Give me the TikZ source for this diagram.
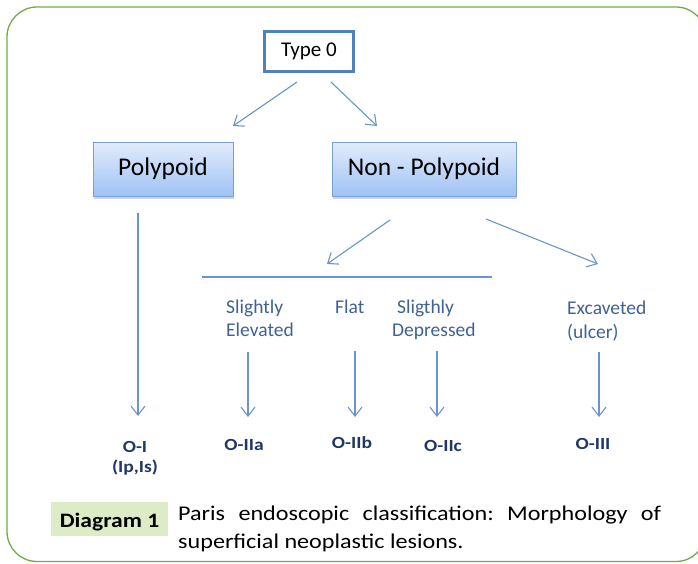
\documentclass[tikz,border=0pt]{standalone}
\usepackage{fontspec}
\setmainfont{Carlito}
\newfontfamily\capfont[FakeStretch=1.15]{Carlito}
\usepackage{tikz}
\usetikzlibrary{arrows.meta,shadows}
\frenchspacing

\definecolor{framegreen}{RGB}{112,173,71}
\definecolor{capgreen}{RGB}{221,235,199}
\definecolor{typeblue}{RGB}{79,129,189}
\definecolor{boxedge}{RGB}{120,160,215}
\definecolor{boxtop}{RGB}{226,236,252}
\definecolor{boxbot}{RGB}{160,194,245}
\definecolor{arrowblue}{RGB}{105,148,205}
\definecolor{labblue}{RGB}{62,98,152}
\definecolor{codeblue}{RGB}{32,56,100}

\begin{document}
\begin{tikzpicture}[x=1pt,y=-1pt,>={Straight Barb[length=9pt,width=14pt]},
    every edge/.style={draw=arrowblue,line width=1.1pt,->}]
    \tikzstyle{typebox}=[draw=typeblue,line width=3pt,fill=white,minimum width=89pt,minimum height=40pt,font=\fontsize{21}{25}\selectfont]
    \tikzstyle{lesion}=[draw=boxedge,line width=0.8pt,top color=boxtop,bottom color=boxbot,minimum height=54pt,
        drop shadow={shadow xshift=1pt,shadow yshift=-2.5pt,opacity=0.35},font=\fontsize{25.5}{30}\selectfont]
    \tikzstyle{morph}=[inner sep=0pt,anchor=north west,align=left,text=labblue,font=\fontsize{19.5}{23.5}\selectfont]
    \tikzstyle{code}=[inner sep=0pt,align=center,text=codeblue,font=\capfont\bfseries\fontsize{17}{20}\selectfont]
    \useasboundingbox (0,0) rectangle (698,563);
    \fill[white] (0,0) rectangle (698,563);
    \clip (0,0) rectangle (698,563);
    \draw[framegreen,line width=1.3pt,rounded corners=30pt] (7,7) rectangle (706,561.5);

    \node[typebox]          (type0)     at (309,51.5)   {Type 0};
    \node[lesion,minimum width=140pt]  (polypoid)  at (163,169)  {Polypoid};
    \node[lesion,minimum width=184pt]  (nonpoly)   at (424,169)  {Non - Polypoid};

    \node[morph]    (elevated)  at (226,299.5)  {Slightly\\Elevated};
    \node[morph]    (flat)      at (335,299.5)  {Flat};
    \node[morph]    (depressed) at (392,299.5)  {\hspace*{5pt}Sligthly\\Depressed};
    \node[morph]    (excavated) at (567,301)    {Excaveted\\(ulcer)};

    \node[code,anchor=north]  (oi)    at (135,441)  {O-I\\(Ip,Is)};
    \node[code,anchor=base]   (oiia)  at (244,450)    {O-IIa};
    \node[code,anchor=base]   (oiib)  at (352,448)    {O-IIb};
    \node[code,anchor=base]   (oiic)  at (443,451)    {O-IIc};
    \node[code,anchor=base]   (oiii)  at (593,449)    {O-III};

    \coordinate (t0left)   at (297,82);
    \coordinate (t0right)  at (331,82);
    \coordinate (polyin)   at (233,126);
    \coordinate (nonin)    at (377,126);
    \coordinate (polyout)  at (138,213);
    \coordinate (oiin)     at (138,416);
    \coordinate (nonleft)  at (390,220);
    \coordinate (nonright) at (486,219);
    \coordinate (barin)    at (327,264);
    \coordinate (excin)    at (598,264);
    \coordinate (barleft)  at (202,277);
    \coordinate (barright) at (492,277);
    \coordinate (elevout)  at (248,352);
    \coordinate (oiiain)   at (248,417);
    \coordinate (flatout)  at (355,351);
    \coordinate (oiibin)   at (355,417);
    \coordinate (deprout)  at (437,351);
    \coordinate (oiicin)   at (437,417);
    \coordinate (excout)   at (599,352);
    \coordinate (oiiiin)   at (599,417);

    \path
        (t0left)    edge    (polyin)
        (t0right)   edge    (nonin)
        (polyout)   edge    (oiin)
        (nonleft)   edge    (barin)
        (nonright)  edge    (excin)
        (elevout)   edge    (oiiain)
        (flatout)   edge    (oiibin)
        (deprout)   edge    (oiicin)
        (excout)    edge    (oiiiin);
    \draw[arrowblue,line width=1.1pt] (barleft) -- (barright);

    \node[fill=capgreen,minimum width=117pt,minimum height=34pt,inner sep=0pt,text height=20pt,text depth=4pt,
        font=\capfont\bfseries\fontsize{20.5}{24}\selectfont]  (diagram) at (109.5,519) {Diagram 1};
    \node[anchor=north west,inner sep=0pt,text width=483pt,align=justify,
        font=\capfont\fontsize{21}{28}\selectfont]  (caption) at (178,505.5)
        {Paris endoscopic classification: Morphology of\linebreak superficial neoplastic lesions.};
\end{tikzpicture}
\end{document}
